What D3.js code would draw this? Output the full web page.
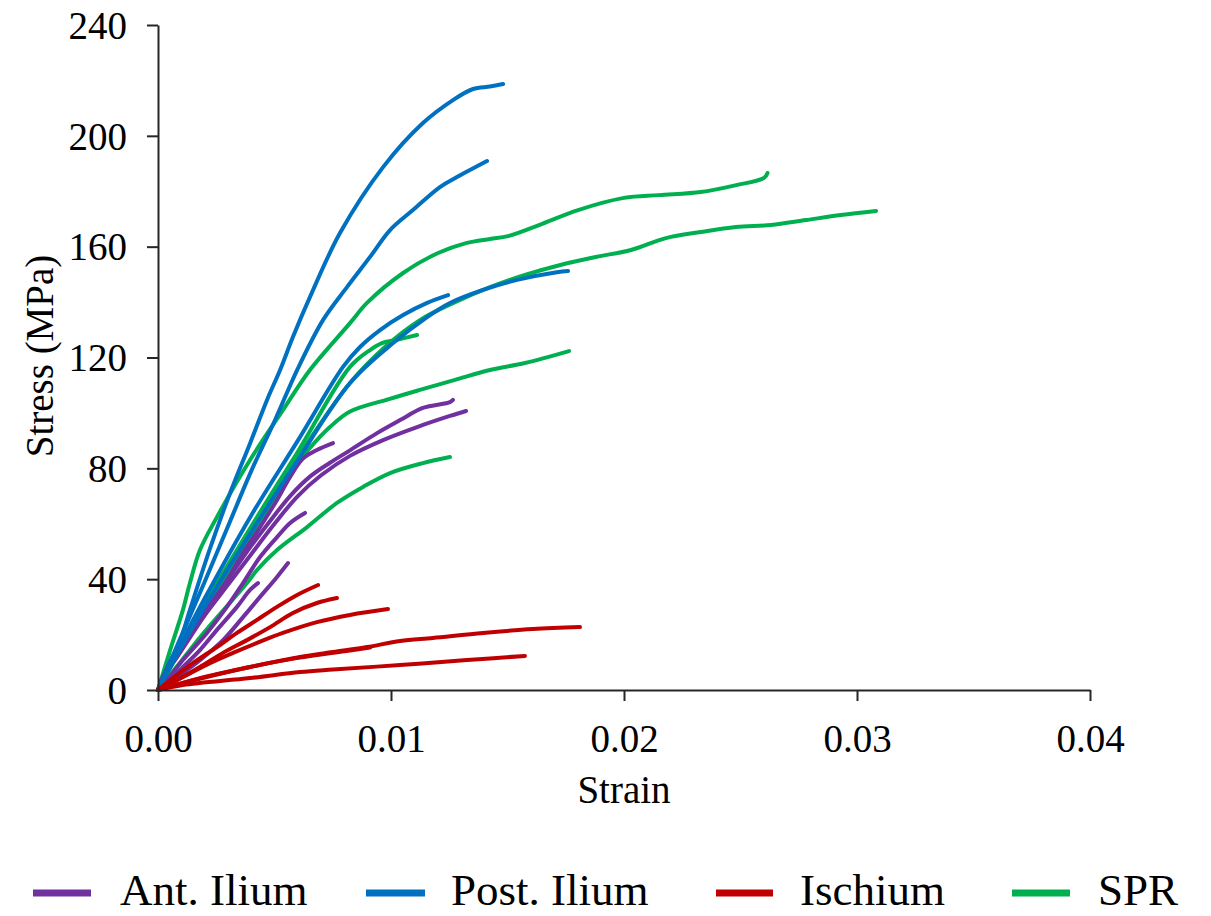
<!DOCTYPE html>
<html><head><meta charset="utf-8">
<script src="https://cdn.jsdelivr.net/npm/d3@7"></script>
<style>body{margin:0;background:#fff}</style>
</head><body><svg id="c" width="1211" height="916"></svg>
<script>
const xTicks=[0,0.01,0.02,0.03,0.04];
const yTicks=[0,40,80,120,160,200,240];
const seriesNames=["Ant. Ilium","Post. Ilium","Ischium","SPR"];
const seriesColors=["#7030A0","#0070C0","#C00000","#00B050"];

// each curve: [strain, stress (MPa)]
const antIlium=[
 [[0,0],[0.0005,10],[0.001,17],[0.002,28],[0.003,40],[0.004,52],[0.00481,61],[0.00567,70],[0.00652,77],[0.00738,82],[0.00824,86.5],[0.0094,92.7],[0.01039,97.4],[0.01137,101.8],[0.01253,103.9],[0.01266,104.7]],
 [[0,0],[0.0005,9],[0.001,16],[0.002,27],[0.003,38],[0.004,49],[0.005,60],[0.006,70],[0.007,77.5],[0.00824,84.5],[0.00966,90.2],[0.01112,94.9],[0.01253,98.9],[0.01322,100.7]],
 [[0,0],[0.00021,4.7],[0.00082,11.9],[0.0015,20.6],[0.00223,30],[0.00296,39.7],[0.00365,49.4],[0.00438,58.8],[0.00511,68.6],[0.00567,76.9],[0.00622,83.5],[0.00682,86.6],[0.00751,89.1]],
 [[0,0],[0.00039,3.6],[0.00107,10.8],[0.0021,20.6],[0.00296,30],[0.00365,38.6],[0.00438,48],[0.00511,55.2],[0.00567,60.3],[0.00631,63.9]],
 [[0,0],[0.00082,4.7],[0.0018,10.8],[0.00279,18],[0.00365,26.3],[0.00438,33.6],[0.00511,40.8],[0.00558,45.8]],
 [[0,0],[0.00039,2.5],[0.00107,8.3],[0.0018,14.4],[0.00253,21.7],[0.00339,30],[0.00395,36.1],[0.00429,38.6]]
];
const postIlium=[
 [[0,0],[0.00082,14.4],[0.00137,28.9],[0.00223,51],[0.00309,71],[0.00395,89],[0.00468,104.7],[0.00524,115.5],[0.00579,127.4],[0.00652,141.8],[0.00781,164.9],[0.00966,188.7],[0.01137,204.6],[0.01266,212.9],[0.01352,216.9],[0.01425,217.8],[0.01481,218.7]],
 [[0,0],[0.001,19.5],[0.002,39],[0.003,59],[0.004,79],[0.005,97],[0.006,116],[0.00708,133.5],[0.00811,145.4],[0.0091,156.3],[0.00996,166],[0.01094,173.2],[0.0121,181.5],[0.01283,185.1],[0.01412,190.9]],
 [[0,0],[0.001,17],[0.002,33],[0.004,63],[0.006,90],[0.00794,116.6],[0.00867,123.8],[0.00953,129.9],[0.01052,135.3],[0.01155,139.7],[0.01245,142.5]],
 [[0,0],[0.001,15.5],[0.002,30],[0.004,57],[0.006,83],[0.00824,110.8],[0.01009,125.2],[0.01155,134.6],[0.01253,139.7],[0.01395,144.4],[0.01541,148],[0.01712,150.8],[0.0176,151.2]]
];
const ischium=[
 [[0,0],[0.00064,4.3],[0.0015,9.7],[0.00253,15.5],[0.00339,20.6],[0.00425,25.3],[0.00511,30],[0.00597,34.3],[0.00687,37.9]],
 [[0,0],[0.00082,3.6],[0.0018,8.3],[0.00279,13.4],[0.00382,18],[0.00481,22.7],[0.00579,27.8],[0.00682,31.4],[0.00768,33.2]],
 [[0,0],[0.00107,4.7],[0.00223,9.7],[0.00322,13.4],[0.00425,17],[0.00536,20.6],[0.00682,24.5],[0.00824,27.1],[0.00987,29.2]],
 [[0,0],[0.0018,4.3],[0.00395,8.3],[0.00609,11.9],[0.00751,13.7],[0.00897,15.5],[0.01039,17.7],[0.0118,18.8],[0.01395,20.6],[0.01609,22],[0.01811,22.7]],
 [[0,0],[0.002,4.5],[0.004,8.4],[0.006,11.6],[0.008,14],[0.0091,15.3]],
 [[0,0],[0.00107,1.8],[0.00395,4.3],[0.00609,6.5],[0.00751,7.4],[0.01039,9],[0.01326,10.8],[0.01575,12.3]]
];
const spr=[
 [[0,0],[0.00052,14.4],[0.00107,28.9],[0.00137,38.6],[0.0018,50.5],[0.00253,62.4],[0.00395,83],[0.00536,101],[0.00652,115.5],[0.00824,132.4],[0.00897,139.7],[0.01052,150.5],[0.01202,157.7],[0.01322,161.3],[0.01425,162.8],[0.01502,163.8],[0.01635,167.8],[0.01803,173.2],[0.02,177.6],[0.0215,178.6],[0.0233,179.7],[0.02481,182.2],[0.02601,184.8],[0.02616,186.6]],
 [[0,0],[0.001,16],[0.002,31],[0.004,59],[0.006,86],[0.00824,116.6],[0.0091,122.7],[0.00961,125.2],[0.01021,126.3],[0.01112,128.1]],
 [[0,0],[0.001,16],[0.002,31],[0.004,58],[0.006,84],[0.00824,110.8],[0.00974,123.8],[0.01124,133.5],[0.01275,140],[0.01425,145.4],[0.01575,149.8],[0.01727,153.4],[0.0188,156.3],[0.0203,158.8],[0.0218,163.1],[0.0233,165.3],[0.0248,167.1],[0.02631,167.8],[0.02781,169.6],[0.02931,171.4],[0.03082,172.9]],
 [[0,0],[0.001,15],[0.002,29],[0.004,56],[0.006,82],[0.0068,90],[0.00738,94.9],[0.00824,100.5],[0.00991,105],[0.01124,108.3],[0.01275,111.9],[0.01425,115.5],[0.01575,118],[0.01764,122.3]],
 [[0,0],[0.001,10.5],[0.002,21],[0.00382,38.6],[0.00425,43.3],[0.00511,50.5],[0.0064,58.8],[0.00768,67.5],[0.0088,73.3],[0.00996,78.3],[0.01137,81.9],[0.01253,84.1]]
];
const seriesData=[antIlium,postIlium,ischium,spr];
const drawOrder=[3,0,1,2];

const FONT='"Liberation Serif","Times New Roman",serif';
const svg=d3.select("#c");
const x=d3.scaleLinear().domain([0,0.04]).range([158,1090]);
const y=d3.scaleLinear().domain([0,240]).range([690,25]);

const line=d3.line().x(d=>x(d[0])).y(d=>y(d[1])).curve(d3.curveCatmullRom.alpha(0.5));
drawOrder.forEach(i=>{
  svg.append("g").selectAll("path").data(seriesData[i]).join("path")
    .attr("d",line).attr("fill","none").attr("stroke",seriesColors[i])
    .attr("stroke-width",4).attr("stroke-linecap","round").attr("stroke-linejoin","round");
});

const gx=svg.append("g").attr("transform","translate(0,690)")
  .call(d3.axisBottom(x).tickValues(xTicks).tickFormat(d3.format(".2f")).tickSize(11).tickSizeOuter(0));
const gy=svg.append("g").attr("transform","translate(158,0)")
  .call(d3.axisLeft(y).tickValues(yTicks).tickFormat(d3.format("d")).tickSize(11).tickPadding(20).tickSizeOuter(0));
[gx,gy].forEach(g=>{
  g.select(".domain").attr("stroke","#262626").attr("stroke-width",2);
  g.selectAll(".tick line").attr("stroke","#262626").attr("stroke-width",2);
  g.selectAll(".tick text").attr("fill","#000").style("font-family",FONT).style("font-size","39px");
});
gx.selectAll(".tick text").attr("y",62).attr("dy","0");
gy.selectAll(".tick text").attr("dy","0.34em");

svg.append("text").attr("x",624).attr("y",803).attr("text-anchor","middle")
  .style("font-family",FONT).style("font-size","39px").text("Strain");
svg.append("text").attr("transform","translate(53,356) rotate(-90)").attr("text-anchor","middle")
  .style("font-family",FONT).style("font-size","39px").text("Stress (MPa)");

const legX=[[33,91,120],[366,425,451],[716,773,800],[1012,1070,1098]];
seriesNames.forEach((n,i)=>{
  const g=svg.append("g");
  g.append("line").attr("x1",legX[i][0]).attr("x2",legX[i][1]).attr("y1",893).attr("y2",893)
    .attr("stroke",seriesColors[i]).attr("stroke-width",7);
  g.append("text").attr("x",legX[i][2]).attr("y",905).style("font-family",FONT).style("font-size","45px").text(n);
});
</script></body></html>
